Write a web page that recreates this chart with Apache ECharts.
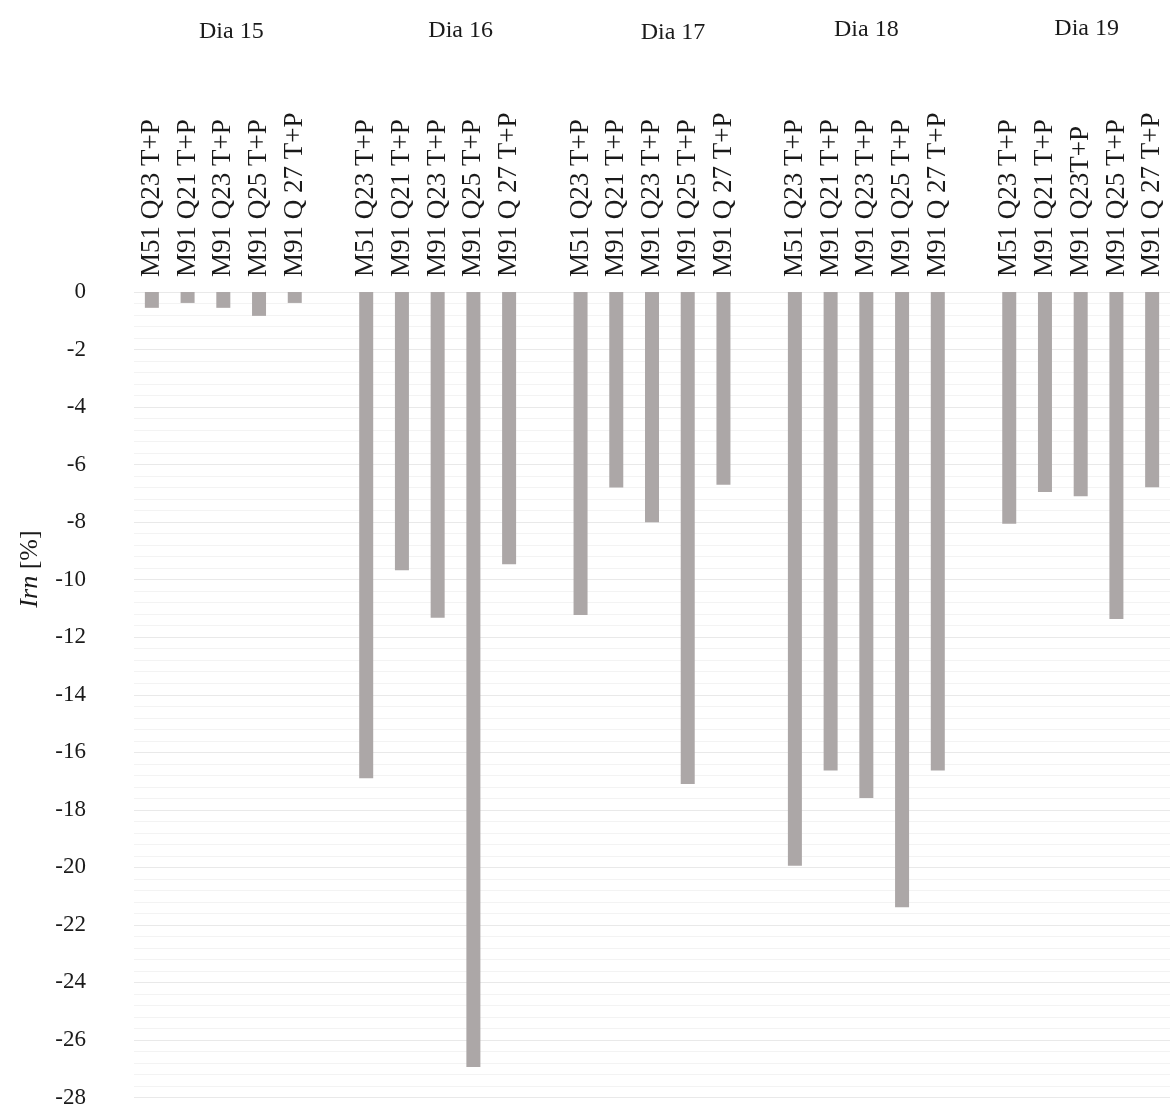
<!DOCTYPE html>
<html>
<head>
<meta charset="utf-8">
<title>Irn [%] por dia</title>
<script src="https://cdn.jsdelivr.net/npm/echarts@6/dist/echarts.min.js"></script>
<style>
  html, body { margin: 0; padding: 0; background: #ffffff; }
  #chart { width: 1170px; height: 1109px; }
</style>
</head>
<body>
<div id="chart"></div>
<script>
// Day titles drawn above each group of bars
const dayTitles = ['Dia 15', 'Dia 16', 'Dia 17', 'Dia 18', 'Dia 19'];

// Sample labels per day
const day15Labels = ['M51 Q23 T+P', 'M91 Q21 T+P', 'M91 Q23 T+P', 'M91 Q25 T+P', 'M91 Q 27 T+P'];
const day16Labels = ['M51 Q23 T+P', 'M91 Q21 T+P', 'M91 Q23 T+P', 'M91 Q25 T+P', 'M91 Q 27 T+P'];
const day17Labels = ['M51 Q23 T+P', 'M91 Q21 T+P', 'M91 Q23 T+P', 'M91 Q25 T+P', 'M91 Q 27 T+P'];
const day18Labels = ['M51 Q23 T+P', 'M91 Q21 T+P', 'M91 Q23 T+P', 'M91 Q25 T+P', 'M91 Q 27 T+P'];
const day19Labels = ['M51 Q23 T+P', 'M91 Q21 T+P', 'M91 Q23T+P', 'M91 Q25 T+P', 'M91 Q 27 T+P'];

// Irn values [%] per day
const day15Values = [-0.55, -0.38, -0.55, -0.83, -0.38];
const day16Values = [-16.9, -9.67, -11.32, -26.94, -9.46];
const day17Values = [-11.23, -6.8, -8.0, -17.1, -6.7];
const day18Values = [-19.94, -16.63, -17.59, -21.39, -16.63];
const day19Values = [-8.06, -6.95, -7.1, -11.37, -6.79];

// Y axis range and step
const yMin = -28;
const yMax = 0;
const yStep = 2;

const dayLabels = [day15Labels, day16Labels, day17Labels, day18Labels, day19Labels];
const dayValues = [day15Values, day16Values, day17Values, day18Values, day19Values];

// One empty category separates consecutive days
const categories = [];
const values = [];
const groupCenters = [];
dayLabels.forEach(function (labels, d) {
  if (d > 0) { categories.push(''); values.push('-'); }
  const start = categories.length;
  labels.forEach(function (lab, i) {
    categories.push(lab);
    values.push(dayValues[d][i]);
  });
  groupCenters.push(start + (labels.length - 1) / 2);
});

const serif = '"Liberation Serif", "Times New Roman", "DejaVu Serif", serif';
const textColor = '#1a1a1a';

const chart = echarts.init(document.getElementById('chart'), null, { renderer: 'canvas' });

chart.setOption({
  animation: false,
  backgroundColor: '#ffffff',
  grid: { left: 134, right: -8, top: 292, bottom: 10, containLabel: false },
  xAxis: {
    type: 'category',
    position: 'top',
    data: categories,
    boundaryGap: true,
    axisLine: { show: false },
    axisTick: { show: false },
    axisLabel: {
      interval: 0,
      rotate: 90,
      margin: 15,
      fontFamily: serif,
      fontSize: 27,
      color: textColor
    },
    splitLine: { show: false }
  },
  yAxis: {
    type: 'value',
    min: yMin,
    max: yMax,
    interval: yStep,
    axisLine: { show: false },
    axisTick: { show: false },
    axisLabel: {
      margin: 48,
      fontFamily: serif,
      fontSize: 23,
      color: textColor
    },
    splitLine: { show: true, lineStyle: { color: '#e9e9e9', width: 1 } },
    minorTick: { show: false, splitNumber: 5 },
    minorSplitLine: { show: true, lineStyle: { color: '#f3f3f3', width: 1 } }
  },
  series: [{
    type: 'bar',
    data: values,
    barWidth: 14,
    itemStyle: { color: '#aca7a7' },
    emphasis: { disabled: true }
  }]
});

// Day titles centred over their groups, with small shifts for the original placement
const titleShift = [8, 23, 21, 0, 6];
const titleY = [32, 31, 33, 30, 29];
const titles = dayTitles.map(function (t, i) {
  const x = chart.convertToPixel({ xAxisIndex: 0 }, groupCenters[i]);
  return {
    type: 'text',
    x: x + titleShift[i],
    y: titleY[i],
    style: {
      text: t,
      fontFamily: serif,
      fontSize: 24,
      fill: textColor,
      align: 'center',
      verticalAlign: 'middle'
    }
  };
});

// Y axis title, rotated, with italic symbol
titles.push({
  type: 'text',
  x: 30,
  y: 569,
  rotation: Math.PI / 2,
  style: {
    text: '{i|Irn} [%]',
    rich: {
      i: { fontFamily: serif, fontSize: 26, fontStyle: 'italic', fill: textColor }
    },
    fontFamily: serif,
    fontSize: 26,
    fill: textColor,
    align: 'center',
    verticalAlign: 'middle'
  }
});

chart.setOption({ graphic: titles });
</script>
</body>
</html>
